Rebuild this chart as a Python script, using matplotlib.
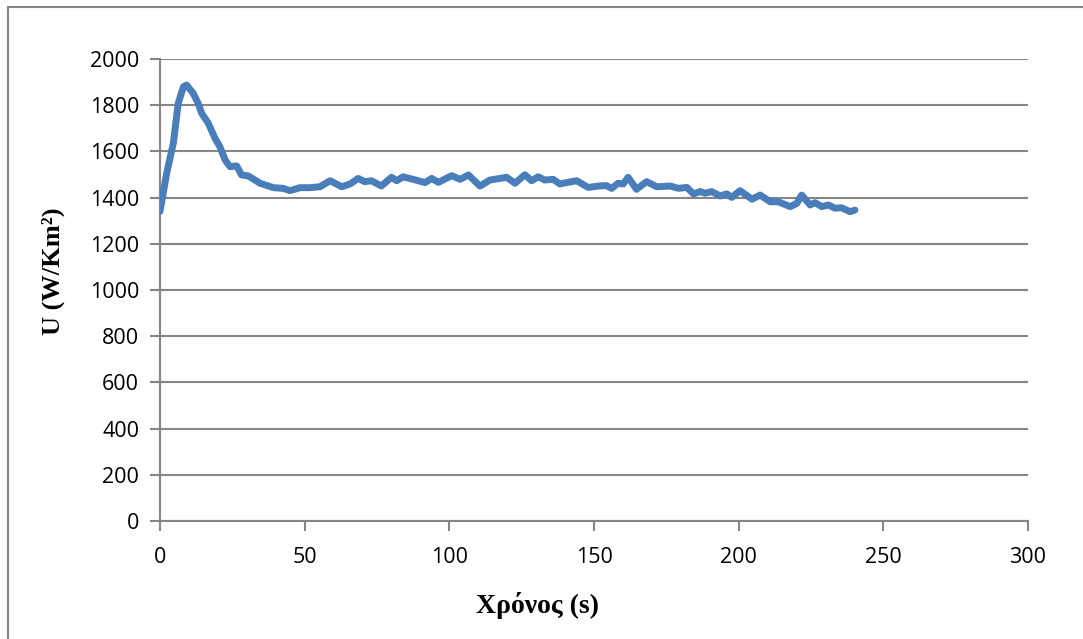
import matplotlib.pyplot as plt
from matplotlib.patches import Rectangle

# values
time_s = [0, 2.3, 4.6, 6.3, 8.1, 9.2, 11.5, 13.2, 14.4, 16.7, 19, 20.7, 22.5, 24.2,
          26.5, 28.2, 30.5, 34.6, 39.2, 42.6, 44.9, 48.4, 51.8, 55.3, 58.8, 62.8,
          65.7, 68.5, 70.8, 73.1, 76.5, 80, 81.8, 84, 87.5, 91.6, 93.9, 96.2, 100.8,
          103.7, 106.6, 110.6, 114, 117.5, 119.8, 122.7, 126.1, 128.4, 130.7, 133,
          135.9, 138.2, 140.5, 144, 148, 151.5, 154.3, 156.1, 158.3, 160.1, 161.8,
          164.7, 168.2, 171.7, 176.3, 179.2, 182.1, 184.4, 186.7, 188.4, 190.7,
          193.6, 195.9, 197.6, 200.5, 204.6, 207.4, 210.9, 213.7, 217.8, 220.1,
          221.8, 224.7, 226.4, 228.7, 231, 233.3, 235.6, 238.5, 240.2]
u_values = [1340, 1505, 1635, 1808, 1880, 1887, 1851, 1808, 1765, 1722, 1657, 1620,
            1563, 1534, 1537, 1498, 1494, 1462, 1443, 1440, 1430, 1443, 1443, 1447,
            1473, 1447, 1459, 1483, 1469, 1473, 1450, 1488, 1473, 1490, 1479, 1465,
            1483, 1466, 1495, 1479, 1498, 1450, 1476, 1483, 1488, 1462, 1499, 1473,
            1490, 1476, 1479, 1459, 1465, 1473, 1444, 1450, 1452, 1440, 1462, 1459,
            1488, 1436, 1469, 1447, 1450, 1440, 1444, 1416, 1426, 1419, 1426, 1407,
            1416, 1401, 1430, 1393, 1411, 1382, 1382, 1361, 1375, 1411, 1368, 1378,
            1361, 1368, 1354, 1356, 1339, 1346]

x_ticks = [0, 50, 100, 150, 200, 250, 300]
y_ticks = [0, 200, 400, 600, 800, 1000, 1200, 1400, 1600, 1800, 2000]

GRAY = "#868686"
BLUE = "#4a7ebb"

fig = plt.figure(figsize=(10.83, 6.39), dpi=100)
ax = fig.add_axes([160 / 1083, 1 - 521 / 639, (1028 - 160) / 1083, (521 - 59) / 639])

# outer chart border (cropped on the right and bottom)
fig.patches.append(Rectangle((8 / 1083, -0.1), 1.2, 1 - 7 / 639 + 0.1,
                             transform=fig.transFigure, fill=False,
                             edgecolor=GRAY, lw=1.5))

ax.plot(time_s, u_values, color=BLUE, lw=5, solid_joinstyle="round",
        solid_capstyle="round", zorder=3)

ax.set_xlim(0, 300)
ax.set_ylim(0, 2000)
ax.set_xticks(x_ticks)
ax.set_yticks(y_ticks)
ax.yaxis.grid(True, color=GRAY, lw=1.5)
ax.set_axisbelow(True)

for side in ["top", "right"]:
    ax.spines[side].set_visible(False)
for side in ["left", "bottom"]:
    ax.spines[side].set_color(GRAY)
    ax.spines[side].set_linewidth(1.5)

ax.tick_params(axis="both", direction="out", length=7, width=1.5, color=GRAY,
               labelsize=15.5, labelcolor="black")
ax.tick_params(axis="y", pad=8)
ax.tick_params(axis="x", pad=12)
for lbl in ax.get_xticklabels() + ax.get_yticklabels():
    lbl.set_family("Open Sans")

# axis titles sit a little off-centre in the original
ax.set_xlabel("Χρόνος (s)", family="Liberation Serif", weight="bold",
              fontsize=20)
ax.xaxis.set_label_coords(0.435, -0.153)
ax.set_ylabel("U (W/Km²)", family="Liberation Serif", weight="bold",
              fontsize=19)
ax.yaxis.set_label_coords(-0.11, 0.541)

fig.savefig("out.png", dpi=100)
